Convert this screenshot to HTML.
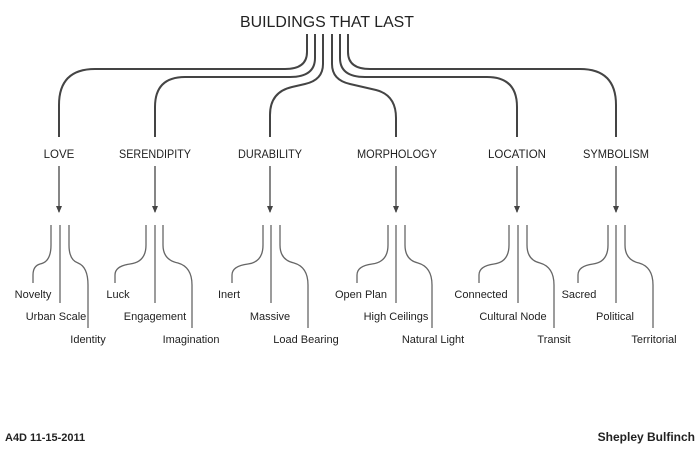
<!DOCTYPE html>
<html><head><style>
html,body{margin:0;padding:0;background:#fff;}
svg{display:block;}
text{font-family:"Liberation Sans",sans-serif;fill:#222;}
</style></head><body>
<svg width="700" height="450" viewBox="0 0 700 450" xmlns="http://www.w3.org/2000/svg">
<defs>
<marker id="ah" markerWidth="7" markerHeight="6" refX="6" refY="3" orient="auto" markerUnits="userSpaceOnUse">
<path d="M0,0 L7,3 L0,6 z" fill="#444"/>
</marker>
</defs>
<text x="327" y="27" font-size="15.5" text-anchor="middle" textLength="174" lengthAdjust="spacingAndGlyphs">BUILDINGS THAT LAST</text>
<g fill="none" stroke="#444" stroke-width="2">
<path d="M307,34 V52 Q307,69 285,69 H95 Q59,69 59,105 V137"/>
<path d="M315,34 V58 Q315,77 290,77 H185 Q155,77 155,107 V137"/>
<path d="M323,34 V64 Q323,80 305,84 L292,87 Q270,92 270,115 V137"/>
<path d="M332,34 V64 Q332,80 350,84 L376,90 Q396,95 396,118 V137"/>
<path d="M340,34 V58 Q340,77 365,77 H487 Q517,77 517,107 V137"/>
<path d="M348,34 V52 Q348,69 370,69 H580 Q616,69 616,105 V137"/>
</g>
<g font-size="11.5" text-anchor="middle">
<text x="59" y="158">LOVE</text>
<text x="155" y="158" textLength="72" lengthAdjust="spacingAndGlyphs">SERENDIPITY</text>
<text x="270" y="158" textLength="64" lengthAdjust="spacingAndGlyphs">DURABILITY</text>
<text x="397" y="158" textLength="80" lengthAdjust="spacingAndGlyphs">MORPHOLOGY</text>
<text x="517" y="158" textLength="58" lengthAdjust="spacingAndGlyphs">LOCATION</text>
<text x="616" y="158" textLength="66" lengthAdjust="spacingAndGlyphs">SYMBOLISM</text>
</g>
<g stroke="#444" stroke-width="1.3" marker-end="url(#ah)">
<line x1="59" y1="166" x2="59" y2="212"/>
<line x1="155" y1="166" x2="155" y2="212"/>
<line x1="270" y1="166" x2="270" y2="212"/>
<line x1="396" y1="166" x2="396" y2="212"/>
<line x1="517" y1="166" x2="517" y2="212"/>
<line x1="616" y1="166" x2="616" y2="212"/>
</g>
<g fill="none" stroke="#666" stroke-width="1.3">
<path d="M51,225 V245 Q51,262 40,264 Q33,266 33,275 V283"/>
<line x1="60" y1="225" x2="60" y2="303"/>
<path d="M69,225 V245 Q69,260 78,263 Q88,267 88,285 V328"/>

<path d="M146,225 V245 Q146,262 130,264 Q115,266 115,275 V283"/>
<line x1="155" y1="225" x2="155" y2="303"/>
<path d="M163,225 V245 Q163,260 178,263 Q192,267 192,285 V328"/>

<path d="M263,225 V245 Q263,262 248,264 Q232,266 232,275 V283"/>
<line x1="271" y1="225" x2="271" y2="303"/>
<path d="M280,225 V245 Q280,260 294,263 Q308,267 308,285 V328"/>

<path d="M388,225 V245 Q388,262 372,264 Q357,266 357,275 V283"/>
<line x1="396" y1="225" x2="396" y2="303"/>
<path d="M405,225 V245 Q405,260 418,263 Q432,267 432,285 V328"/>

<path d="M509,225 V245 Q509,262 494,264 Q479,266 479,275 V283"/>
<line x1="518" y1="225" x2="518" y2="303"/>
<path d="M527,225 V245 Q527,260 540,263 Q554,267 554,285 V328"/>

<path d="M608,225 V245 Q608,262 593,264 Q578,266 578,275 V283"/>
<line x1="616" y1="225" x2="616" y2="303"/>
<path d="M625,225 V245 Q625,260 639,263 Q653,267 653,285 V328"/>
</g>
<g font-size="11" text-anchor="middle">
<text x="33" y="298">Novelty</text>
<text x="56" y="320">Urban Scale</text>
<text x="88" y="343">Identity</text>
<text x="118" y="298">Luck</text>
<text x="155" y="320">Engagement</text>
<text x="191" y="343">Imagination</text>
<text x="229" y="298">Inert</text>
<text x="270" y="320">Massive</text>
<text x="306" y="343">Load Bearing</text>
<text x="361" y="298">Open Plan</text>
<text x="396" y="320">High Ceilings</text>
<text x="433" y="343">Natural Light</text>
<text x="481" y="298">Connected</text>
<text x="513" y="320">Cultural Node</text>
<text x="554" y="343">Transit</text>
<text x="579" y="298">Sacred</text>
<text x="615" y="320">Political</text>
<text x="654" y="343">Territorial</text>
</g>
<text x="5" y="441" font-size="11" font-weight="bold">A4D 11-15-2011</text>
<text x="695" y="441" font-size="12" font-weight="bold" text-anchor="end">Shepley Bulfinch</text>
</svg>
</body></html>
